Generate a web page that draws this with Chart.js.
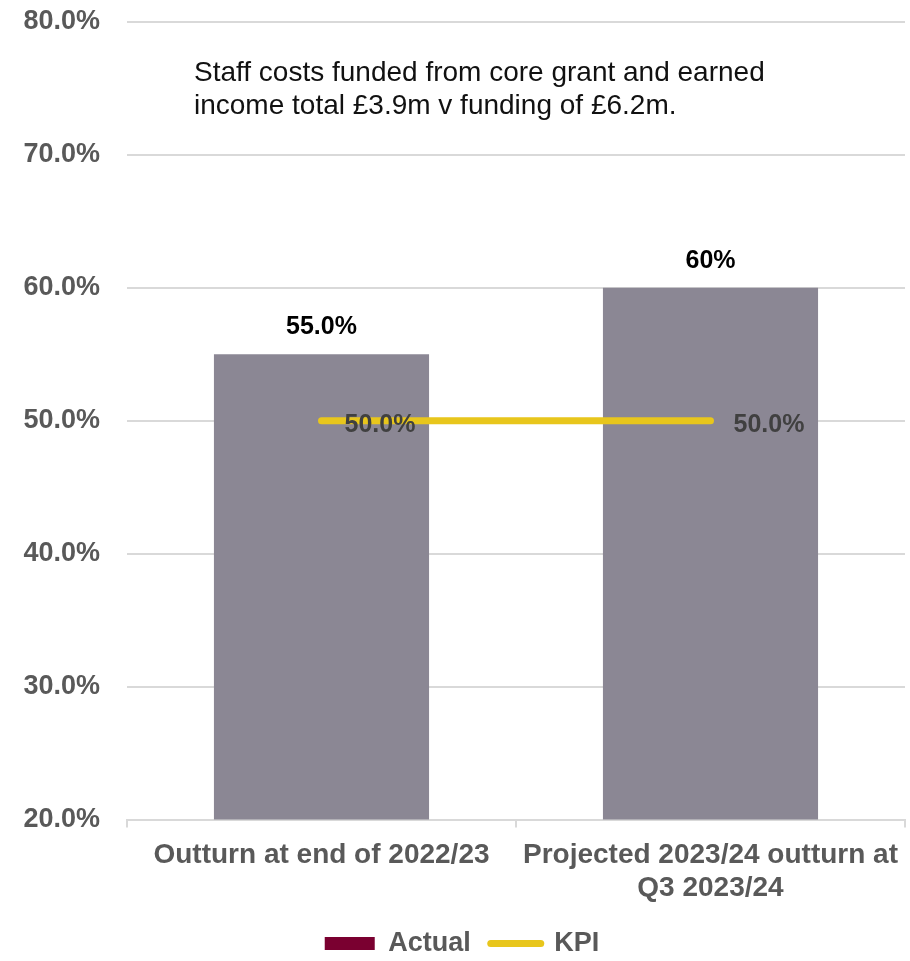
<!DOCTYPE html>
<html>
<head>
<meta charset="utf-8">
<script src="https://cdn.jsdelivr.net/npm/chart.js@4.4.1/dist/chart.umd.min.js"></script>
<style>
  html, body { margin: 0; padding: 0; background: #ffffff; }
  #wrap { width: 910px; height: 961px; position: relative; }
</style>
</head>
<body>
<div id="wrap"><canvas id="c" width="910" height="961"></canvas></div>
<script>
// Categories and values
const categories = [
  "Outturn at end of 2022/23",
  ["Projected 2023/24 outturn at", "Q3 2023/24"]
];
const actualValues = [55.0, 60.0];
const actualLabels = ["55.0%", "60%"];
const kpiValues = [50.0, 50.0];
const kpiLabels = ["50.0%", "50.0%"];
const noteLines = [
  "Staff costs funded from core grant and earned",
  "income total £3.9m v funding of £6.2m."
];

const FONT = "'Liberation Sans', Arial, sans-serif";
const AXIS_GREY = "#595959";

// Value labels and the note text
const labelsPlugin = {
  id: "valueLabels",
  afterDatasetsDraw(chart) {
    const ctx = chart.ctx;
    ctx.save();
    // bar labels
    const barMeta = chart.getDatasetMeta(0);
    ctx.font = "bold 25px " + FONT;
    ctx.fillStyle = "#000000";
    ctx.textAlign = "center";
    ctx.textBaseline = "alphabetic";
    barMeta.data.forEach((el, i) => {
      ctx.fillText(actualLabels[i], el.x, el.y - 20);
    });
    // KPI labels
    const lineMeta = chart.getDatasetMeta(1);
    ctx.font = "bold 25px " + FONT;
    ctx.fillStyle = "#404040";
    ctx.textAlign = "left";
    lineMeta.data.forEach((el, i) => {
      ctx.fillText(kpiLabels[i], el.x + 23, el.y + 11);
    });
    // note
    ctx.font = "28px " + FONT;
    ctx.fillStyle = "#111111";
    noteLines.forEach((t, i) => ctx.fillText(t, 194, 81 + i * 33));
    ctx.restore();
  }
};

new Chart(document.getElementById("c"), {
  data: {
    labels: categories,
    datasets: [
      {
        type: "bar",
        label: "Actual",
        data: actualValues,
        backgroundColor: "#8b8794",
        legendColor: "#7a0030",
        categoryPercentage: 1.0,
        barPercentage: 0.553,
        order: 2
      },
      {
        type: "line",
        label: "KPI",
        data: kpiValues,
        borderColor: "#e8c61c",
        backgroundColor: "#e8c61c",
        borderWidth: 7,
        borderCapStyle: "round",
        pointRadius: 0,
        pointHoverRadius: 0,
        order: 1
      }
    ]
  },
  options: {
    responsive: false,
    animation: false,
    layout: { padding: { top: 22, right: -2, left: 12, bottom: -6 } },
    plugins: {
      tooltip: { enabled: false },
      legend: {
        position: "bottom",
        labels: {
          font: { family: FONT, size: 27, weight: "bold" },
          color: AXIS_GREY,
          usePointStyle: true,
          boxHeight: 13,
          pointStyleWidth: 50,
          padding: 20,
          generateLabels(chart) {
            return chart.data.datasets.map((ds, i) => ({
              text: ds.label,
              datasetIndex: i,
              fillStyle: ds.type === "bar" ? ds.legendColor : ds.borderColor,
              strokeStyle: ds.type === "bar" ? ds.legendColor : ds.borderColor,
              lineWidth: ds.type === "bar" ? 0 : 7,
              lineCap: "round",
              pointStyle: ds.type === "bar" ? "rect" : "line",
              fontColor: AXIS_GREY,
              hidden: false
            }));
          }
        }
      }
    },
    scales: {
      x: {
        offset: true,
        afterFit(scale) { scale.height -= 6; },
        grid: {
          offset: true,
          drawOnChartArea: false,
          drawTicks: true,
          tickLength: 8,
          color: "#d9d9d9",
          lineWidth: 2
        },
        border: { display: true, color: "#d9d9d9", width: 2 },
        ticks: {
          font: { family: FONT, size: 28, weight: "bold", lineHeight: 1.15 },
          color: AXIS_GREY,
          padding: 12,
          maxRotation: 0,
          autoSkip: false
        }
      },
      y: {
        min: 20,
        max: 80,
        afterFit(scale) { scale.width = 115; },
        ticks: {
          stepSize: 10,
          font: { family: FONT, size: 27, weight: "bold" },
          color: AXIS_GREY,
          padding: 3,
          callback: v => v.toFixed(1) + "%"
        },
        grid: {
          color: "#d9d9d9",
          lineWidth: 2,
          drawTicks: true,
          tickLength: 24,
          tickColor: "rgba(0,0,0,0)"
        },
        border: { display: false }
      }
    }
  },
  plugins: [labelsPlugin]
});
</script>
</body>
</html>
